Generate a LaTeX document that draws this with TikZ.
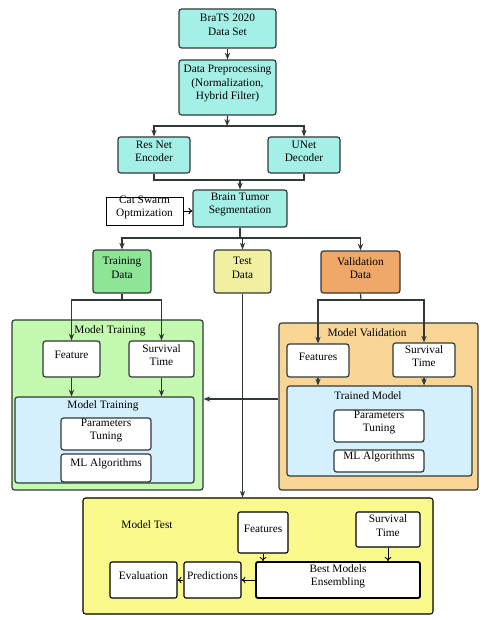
\documentclass[tikz,border=0pt]{standalone}
\usepackage{fontspec}
\setmainfont{Liberation Serif}
\usetikzlibrary{arrows.meta,fit}

% Colours
\definecolor{edge}{RGB}{48,56,56}
\definecolor{cyanbg}{RGB}{165,240,230}
\definecolor{trainfill}{RGB}{140,230,150}
\definecolor{testfill}{RGB}{240,240,160}
\definecolor{validfill}{RGB}{240,168,104}
\definecolor{trainbg}{RGB}{196,250,176}
\definecolor{validbg}{RGB}{250,214,150}
\definecolor{innerbg}{RGB}{212,240,252}
\definecolor{testbg}{RGB}{250,250,140}

\tikzset{
  box/.style={draw=edge, line width=0.9pt, rounded corners=2pt, inner sep=0pt, align=center},
  whitebox/.style={box, fill=white},
  testbox/.style={draw=black, line width=0.8pt, rounded corners=1.5pt, fill=white, inner sep=0pt, align=center},
  arr/.style={draw=edge, line width=0.9pt, -{Stealth[length=5pt,width=4pt]}},
  openarr/.style={draw=black, line width=0.7pt, -{To[length=3pt,width=5pt]}}
}

\begin{document}
\begin{tikzpicture}[x=0.75pt, y=-0.75pt, font=\fontsize{8.5}{10}\selectfont]
\useasboundingbox (0,0) rectangle (494,620);

% Upper pipeline
\node[box, fill=cyanbg, fit={(179,9) (276,48)}] (brats) {BraTS 2020\\Data Set};
\node[box, fill=cyanbg, fit={(179,60) (276,115)}] (prep) {Data Preprocessing\\(Normalization,\\Hybrid Filter)};
\node[box, fill=cyanbg, fit={(118,137) (190,173)}] (resnet) {Res Net\\Encoder};
\node[box, fill=cyanbg, fit={(268,137) (340,173)}] (unet) {UNet\\Decoder};
\node[box, fill=cyanbg, fit={(193,190) (287,227)}] (seg) {Brain Tumor\\Segmentation};
\node[draw=black, line width=0.7pt, fill=white, inner sep=0pt, align=center, fit={(106,197) (183,225)}] (cat) {Cat Swarm\\Optmization};

\coordinate (split1) at (227,126);
\coordinate (merge) at (240,180);
\coordinate (split2) at (240,238);

\draw[arr] (brats) -- (prep);
\draw[arr] (prep.south) -- (split1);
\draw[arr] (split1) -| (resnet.north);
\draw[arr] (split1) -| (unet.north);
\draw[draw=edge, line width=0.9pt] (resnet.south) |- (merge) -| (unet.south);
\draw[arr] (merge) -- (seg.north);
\draw[openarr] (cat.east) -- (cat.east -| seg.west);

% Data split
\node[box, fill=trainfill, fit={(93,250) (151,293)}] (train) {Training\\Data};
\node[box, fill=testfill, fit={(214,250) (271,293)}] (test) {Test\\Data};
\node[box, fill=validfill, fit={(321,251) (400,293)}] (valid) {Validation\\Data};

\draw[draw=edge, line width=0.9pt] (seg.south) -- (split2);
\draw[arr] (split2) -| (train.north);
\draw[arr] (split2) -- (split2 -| test.north) -- (test.north);
\draw[arr] (split2) -| (valid.north);

% Model training
\node[box, fill=trainbg, fit={(12,320) (203,490)}] (mtrain) {};
\node (mtraintitle) at (110,331) {Model Training};
\node[whitebox, fit={(43,341) (100,377)}] (feat1) {Feature};
\node[whitebox, fit={(129,341) (194,377)}] (surv1) {Survival\\Time};
\node[box, fill=innerbg, fit={(15,397) (194,483)}] (inner1) {};
\node (inner1title) at (103,406) {Model Training};
\node[whitebox, fit={(61,418) (151,450)}] (tune1) {Parameters\\Tuning};
\node[whitebox, fit={(61,454) (151,482)}] (algo1) {ML Algorithms};

% Model validation
\node[box, fill=validbg, fit={(279,323) (478,490)}] (mval) {};
\node (mvaltitle) at (367,333) {Model Validation};
\node[whitebox, fit={(287,344) (349,377)}] (feat2) {Features};
\node[whitebox, fit={(393,343) (455,377)}] (surv2) {Survival\\Time};
\node[box, fill=innerbg, fit={(287,386) (472,476)}] (inner2) {};
\node (inner2title) at (368,396) {Trained Model};
\node[whitebox, fit={(334,410) (424,442)}] (tune2) {Parameters\\Tuning};
\node[whitebox, fit={(334,450) (424,472)}] (algo2) {ML Algorithms};

\coordinate (split3) at (122,300);
\coordinate (split4) at (361,300);
\draw[draw=edge, line width=0.9pt] (train.south) -- (split3);
\draw[arr] (split3) -| (feat1.north);
\draw[arr] (split3) -| (surv1.north);
\draw[arr] (feat1.south) -- (feat1.south |- inner1.north);
\draw[arr] (surv1.south) -- (surv1.south |- inner1.north);
\draw[draw=edge, line width=0.9pt] (valid.south) -- (split4);
\draw[arr] (split4) -| (feat2.north);
\draw[arr] (split4) -| (surv2.north);
\draw[arr] (feat2.south) -- (feat2.south |- inner2.north);
\draw[arr] (surv2.south) -- (surv2.south |- inner2.north);
\draw[arr] (mval.west |- 0,399) -- (mtrain.east |- 0,399);

% Model test
\node[draw=black, line width=0.8pt, rounded corners=2pt, fill=testbg, inner sep=0pt, fit={(83,498) (433,614)}] (mtest) {};
\node (mtesttitle) at (147,525) {Model Test};
\node[testbox, fit={(238,512) (288,553)}] (feat3) {Features};
\node[testbox, fit={(356,512) (420,547)}] (surv3) {Survival\\Time};
\node[testbox, line width=1.4pt, fit={(256,562) (420,598)}] (best) {Best Models\\Ensembling};
\node[testbox, fit={(184,562) (241,598)}] (pred) {Predictions};
\node[testbox, fit={(110,562) (177,598)}] (eval) {Evaluation};

\draw[arr] (test.south) -- (test.south |- mtest.north);
\draw[openarr] (feat3.south) -- (feat3.south |- best.north);
\draw[openarr] (surv3.south) -- (surv3.south |- best.north);
\draw[openarr] (best.west) -- (pred.east);
\draw[openarr] (pred.west) -- (eval.east);
\end{tikzpicture}
\end{document}
